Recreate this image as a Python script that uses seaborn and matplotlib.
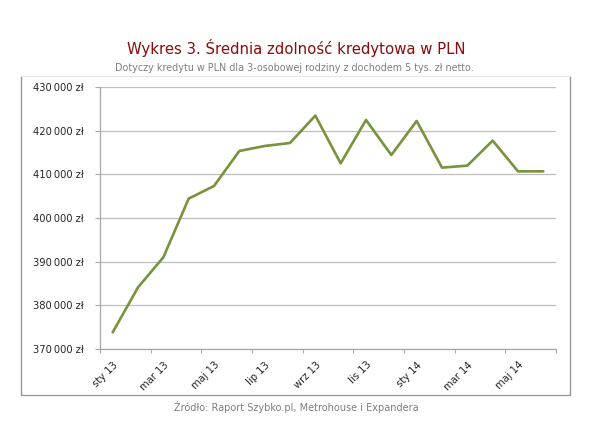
import matplotlib
matplotlib.use("Agg")
import matplotlib.pyplot as plt
import seaborn as sns
import numpy as np
import pandas as pd
from matplotlib.lines import Line2D

months = ["sty 13", "lut 13", "mar 13", "kwi 13", "maj 13", "cze 13", "lip 13", "sie 13",
          "wrz 13", "paź 13", "lis 13", "gru 13", "sty 14", "lut 14", "mar 14", "kwi 14",
          "maj 14", "cze 14"]
values = [373750, 384080, 390970, 404440, 407350, 415380, 416530, 417220, 423500,
          412550, 422500, 414460, 422270, 411560, 412020, 417760, 410710, 410710]
y_ticks = [370000, 380000, 390000, 400000, 410000, 420000, 430000]
title = "Wykres 3. Średnia zdolność kredytowa w PLN"
subtitle = "Dotyczy kredytu w PLN dla 3-osobowej rodziny z dochodem 5 tys. zł netto."
source = "Źródło: Raport Szybko.pl, Metrohouse i Expandera"

sns.set_theme(style="white")
plt.rcParams['font.family'] = ['DejaVu Sans']

df = pd.DataFrame({"idx": np.arange(len(months)), "month": months, "value": values})

fig = plt.figure(figsize=(6.13, 4.42), dpi=100)
W, H = 613, 442
ax = fig.add_axes([100 / W, 1 - 348.7 / H, 456 / W, (348.7 - 87.3) / H])

sns.lineplot(data=df, x="idx", y="value", ax=ax, color="#77933C", linewidth=1.9)

ax.set_xlim(-0.5, len(months) - 0.5)
ax.set_ylim(y_ticks[0], y_ticks[-1])
ax.set_yticks(y_ticks)
ax.set_yticklabels([f"{v:,}".replace(",", "\u2009") + " zł" for v in y_ticks], fontsize=7.2, color="#262626")
ax.yaxis.grid(True, color="#BFBFBF", linewidth=0.9)
ax.set_axisbelow(True)

# major ticks at boundaries every 2 categories, labels at categories every 2
ax.set_xticks(np.arange(-0.5, len(months), 2))
ax.set_xticklabels([])
ax.set_xticks(np.arange(0, len(months), 2), minor=True)
ax.set_xticklabels([months[i] for i in range(0, len(months), 2)], minor=True,
                   rotation=45, ha="right", rotation_mode="anchor", fontsize=7.2, color="#262626")
ax.tick_params(axis="x", which="major", length=3, width=0.8, color="#A6A6A6", direction="out", bottom=True)
ax.tick_params(axis="x", which="minor", length=0, pad=8)
ax.tick_params(axis="y", length=3.6, width=0.8, color="#A6A6A6", direction="out", left=True, pad=8)
ax.set_xlabel("")
ax.set_ylabel("")
for s in ["top", "right"]:
    ax.spines[s].set_visible(False)
for s in ["left", "bottom"]:
    ax.spines[s].set_color("#A6A6A6")
    ax.spines[s].set_linewidth(0.9)

# outer chart frame
fig.add_artist(Line2D([21 / W, 21 / W], [1 - 76 / H, 1 - 395 / H], color="#9A9A9A", lw=1.0, transform=fig.transFigure))
fig.add_artist(Line2D([570 / W, 570 / W], [1 - 76 / H, 1 - 395 / H], color="#9A9A9A", lw=1.0, transform=fig.transFigure))
fig.add_artist(Line2D([21 / W, 570 / W], [1 - 395 / H, 1 - 395 / H], color="#9A9A9A", lw=1.0, transform=fig.transFigure))
fig.add_artist(Line2D([21 / W, 570 / W], [1 - 76 / H, 1 - 76 / H], color="#E8E8E8", lw=0.8, transform=fig.transFigure))

fig.text(296 / W, 1 - 48 / H, title, ha="center", va="center", fontsize=10.7, color="#8B0A0A")
fig.text(294 / W, 1 - 68 / H, subtitle, ha="center", va="center", fontsize=6.9, color="#7F7F7F")
fig.text(296 / W, 1 - 407 / H, source, ha="center", va="center", fontsize=7.0, color="#7F7F7F")

fig.savefig("out.png", dpi=100)
